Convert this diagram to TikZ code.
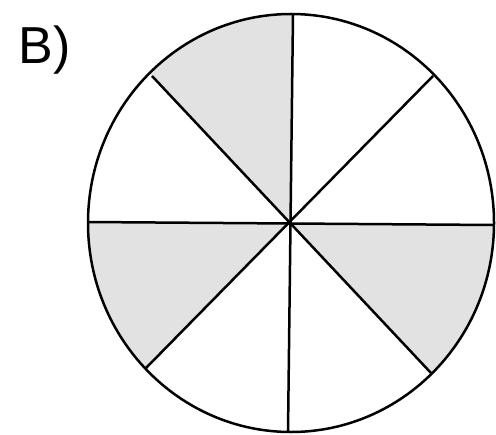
\documentclass[tikz,border=0pt]{standalone}
\usepackage{fontspec}
\setmainfont{Liberation Sans}
\usetikzlibrary{calc}
\definecolor{shade}{RGB}{226,226,226}
\tikzset{
  spoke/.style={line width=1.25pt, black},
  rim/.style={line width=1.25pt, black},
  sector/.style={fill=shade},
  lbl/.style={font=\fontsize{26}{30}\selectfont, inner sep=0pt, anchor=base west}
}
\begin{document}
\begin{tikzpicture}[x=0.5pt,y=0.5pt]
\useasboundingbox (0,0) rectangle (496,434);
\fill[white] (0,0) rectangle (496,434);
\coordinate (C) at (291,211);
\coordinate (O) at (290,211);
\coordinate (T) at (293,420);
\coordinate (Bt) at (288,2);
\coordinate (L) at (88,212);
\coordinate (R) at (494,209);
\coordinate (UL) at (152,358);
\coordinate (UR) at (433,358);
\coordinate (LL) at (146,66);
\coordinate (LR) at (431,61);
\begin{scope}
  \clip (C) ellipse [x radius=203, y radius=209];
  \fill[sector] (O) -- ($(O)!1.4!(T)$) -- ($(O)!1.4!(UL)$) -- cycle;
  \fill[sector] (O) -- ($(O)!1.4!(L)$) -- ($(O)!1.4!(LL)$) -- cycle;
  \fill[sector] (O) -- ($(O)!1.4!(R)$) -- ($(O)!1.4!(LR)$) -- cycle;
\end{scope}
\draw[spoke] (T) -- (Bt);
\draw[spoke] (L) -- (R);
\draw[spoke] (UL) -- (LR);
\draw[spoke] (UR) -- (LL);
\draw[rim] (C) ellipse [x radius=203, y radius=209];
\node[lbl] (label) at (18,370) {B)};
\end{tikzpicture}
\end{document}
